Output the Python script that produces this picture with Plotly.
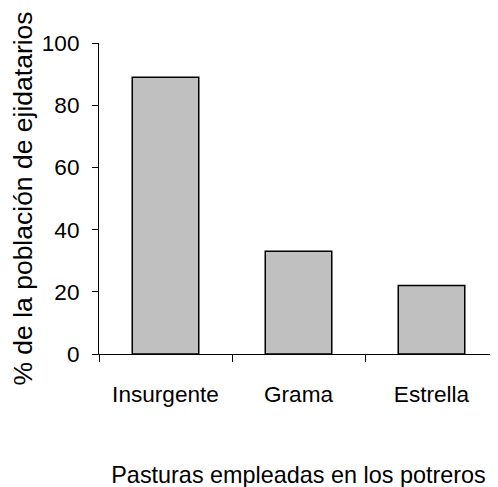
import plotly.graph_objects as go

categories = ["Insurgente", "Grama", "Estrella"]
values = [89, 33, 22]
y_ticks = [0, 20, 40, 60, 80, 100]

FONT = "Liberation Sans, Arial, sans-serif"

fig = go.Figure(
    go.Bar(
        x=categories,
        y=values,
        marker=dict(color="#C0C0C0", line=dict(color="black", width=1.5)),
    )
)

fig.update_layout(
    width=498,
    height=487,
    margin=dict(l=91, r=8, t=35, b=141),
    paper_bgcolor="white",
    plot_bgcolor="white",
    bargap=0.5,
    showlegend=False,
    font=dict(family=FONT, size=22, color="black"),
)

fig.update_xaxes(
    showline=True,
    linecolor="black",
    linewidth=1,
    ticks="outside",
    tickson="boundaries",
    ticklen=7,
    tickcolor="black",
    showgrid=False,
    ticklabelstandoff=20,
    tickfont=dict(size=22.6),
    title=dict(text="Pasturas empleadas en los potreros", font=dict(size=23.4), standoff=60),
    automargin=False,
)

fig.update_yaxes(
    range=[0, 100],
    tickvals=y_ticks,
    showline=True,
    linecolor="black",
    linewidth=1,
    ticks="outside",
    ticklen=6,
    tickcolor="black",
    showgrid=False,
    zeroline=False,
    ticklabelstandoff=8,
    tickfont=dict(size=22.6),
    title=dict(text="% de la población de ejidatarios", font=dict(size=26.5), standoff=9),
    automargin=False,
)

fig.write_html("out.html")
